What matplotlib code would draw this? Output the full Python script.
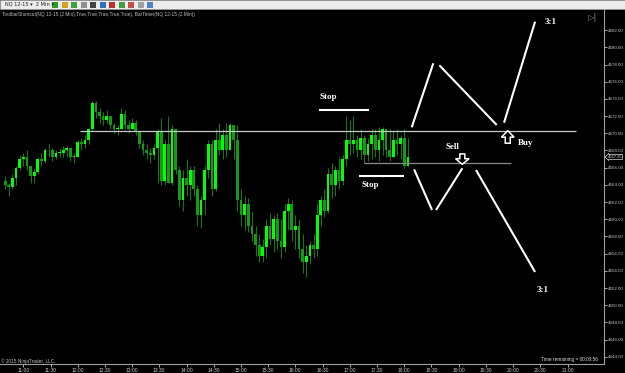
import matplotlib
matplotlib.use("Agg")
import matplotlib.pyplot as plt
import matplotlib.transforms as mtransforms
from matplotlib.patches import FancyArrow, Rectangle
import numpy as np

# 4-minute bars, time in minutes after 11:00
bar_step = 4
first_time = -20
first_open = 4664.50
highs = [4665.0, 4664.25, 4665.25, 4666.25, 4667.5, 4667.75, 4668.0, 4666.25, 4666.0, 4667.25,
         4667.75, 4668.25, 4668.75, 4668.25, 4668.0, 4668.25, 4668.5, 4668.5, 4668.25, 4667.75,
         4669.25, 4669.5, 4669.75, 4670.5, 4673.75, 4673.75, 4673.0, 4672.5, 4672.75, 4672.0,
         4671.25, 4671.0, 4673.0, 4672.75, 4671.5, 4671.75, 4671.5, 4670.25, 4669.25, 4668.75,
         4668.25, 4668.75, 4670.5, 4671.75, 4669.25, 4672.0, 4671.0, 4670.5, 4666.25, 4665.75,
         4667.0, 4666.25, 4666.25, 4664.0, 4662.75, 4666.25, 4669.25, 4669.25, 4670.5, 4671.25,
         4670.5, 4671.25, 4671.25, 4671.0, 4671.0, 4663.5, 4662.75, 4662.5, 4661.0, 4659.25,
         4658.25, 4657.75, 4660.0, 4660.75, 4660.5, 4660.75, 4660.0, 4661.75, 4662.5, 4662.25,
         4660.5, 4660.0, 4658.25, 4657.0, 4657.5, 4658.25, 4661.75, 4662.75, 4663.5, 4666.0,
         4666.5, 4666.25, 4667.25, 4667.5, 4672.0, 4671.5, 4672.0, 4669.75, 4670.5, 4669.75,
         4669.5, 4670.5, 4670.5, 4670.75, 4670.75, 4670.5, 4670.5, 4670.25, 4670.5, 4669.75,
         4670.5, 4669.5]
lows = [4663.5, 4662.75, 4663.5, 4664.0, 4665.75, 4666.25, 4665.75, 4664.25, 4664.25, 4665.25,
        4666.25, 4666.5, 4667.25, 4666.75, 4667.0, 4667.25, 4667.25, 4667.25, 4666.75, 4666.5,
        4667.25, 4668.0, 4668.25, 4668.75, 4670.25, 4671.75, 4671.25, 4671.0, 4671.25, 4670.5,
        4670.0, 4669.75, 4670.5, 4670.5, 4670.0, 4670.5, 4669.75, 4668.25, 4667.5, 4667.0,
        4666.5, 4667.0, 4664.25, 4664.0, 4664.0, 4664.25, 4664.0, 4665.25, 4661.5, 4661.0,
        4662.75, 4662.25, 4662.75, 4659.25, 4659.0, 4660.5, 4664.75, 4662.75, 4663.25, 4667.5,
        4667.0, 4667.25, 4668.0, 4667.0, 4661.0, 4659.25, 4658.75, 4658.5, 4657.5, 4655.75,
        4655.0, 4655.0, 4655.5, 4657.0, 4656.25, 4656.5, 4655.5, 4656.25, 4658.75, 4657.5,
        4656.5, 4655.5, 4653.75, 4653.25, 4654.75, 4655.5, 4655.75, 4659.25, 4660.25, 4660.75,
        4662.5, 4662.75, 4663.5, 4664.0, 4666.25, 4667.5, 4667.75, 4667.25, 4667.0, 4666.5,
        4666.75, 4667.0, 4667.25, 4666.75, 4667.5, 4667.25, 4666.75, 4667.25, 4667.5, 4667.0,
        4666.0, 4666.5]
closes = [4664.0, 4663.75, 4664.75, 4666.0, 4667.0, 4667.25, 4666.25, 4665.0, 4665.5, 4667.0,
          4666.75, 4668.0, 4668.0, 4667.25, 4667.75, 4667.75, 4668.0, 4668.25, 4667.25, 4667.25,
          4669.0, 4668.75, 4669.25, 4670.5, 4673.5, 4672.5, 4672.0, 4671.5, 4672.0, 4671.0,
          4670.5, 4670.5, 4672.25, 4671.0, 4670.5, 4671.25, 4670.25, 4668.75, 4668.0, 4667.75,
          4667.5, 4668.25, 4670.25, 4664.5, 4668.75, 4664.25, 4670.5, 4665.75, 4662.25, 4664.75,
          4664.0, 4665.75, 4663.5, 4660.5, 4662.25, 4665.75, 4668.75, 4663.5, 4669.25, 4668.0,
          4669.75, 4668.0, 4671.0, 4669.25, 4662.25, 4660.5, 4661.75, 4659.25, 4658.25, 4657.0,
          4655.75, 4656.75, 4659.25, 4657.75, 4660.0, 4657.5, 4656.75, 4661.0, 4661.75, 4658.75,
          4659.25, 4656.5, 4655.0, 4655.75, 4657.0, 4656.5, 4660.5, 4662.25, 4661.0, 4665.25,
          4664.0, 4665.75, 4664.5, 4667.0, 4669.25, 4668.75, 4669.25, 4668.0, 4669.5, 4667.5,
          4668.75, 4669.75, 4668.0, 4669.25, 4670.5, 4668.0, 4667.25, 4669.25, 4668.75, 4669.5,
          4666.25, 4667.25]

last_price = 4667.25
time_ticks = ["11:00", "11:30", "12:00", "12:30", "13:00", "13:30", "14:00", "14:30", "15:00",
              "15:30", "16:00", "16:30", "17:00", "17:30", "18:00", "18:30", "19:00", "19:30",
              "20:00", "20:30", "21:00"]
price_ticks = list(range(4644, 4684, 2))

# drawing lines (time min, price)
resist_level = 4670.25
support_level = 4666.5
up_path = [[(428.2, 4670.70), (452.0, 4678.14)],
           [(458.7, 4677.91), (521.9, 4670.97)],
           [(530.0, 4671.23), (564.2, 4682.98)]]
down_path = [[(430.8, 4665.81), (450.6, 4661.08)],
             [(455.0, 4661.08), (484.0, 4665.93)],
             [(499.1, 4665.73), (564.2, 4653.87)]]

closes = np.array(closes)
opens = np.concatenate([[first_open], closes[:-1]])
highs = np.maximum(np.array(highs), np.maximum(opens, closes))
lows = np.minimum(np.array(lows), np.minimum(opens, closes))
times = first_time + bar_step * np.arange(len(closes))

small = "Liberation Sans"

fig = plt.figure(figsize=(6.25, 3.73), dpi=100, facecolor="black")
ax = fig.add_axes([0, 9 / 373, 604 / 625, 354 / 373])
ax.set_facecolor("black")

up = closes >= opens
ax.vlines(times, lows, highs, color="#0f7f0f", lw=0.7, zorder=2)
body_h = np.maximum(np.abs(closes - opens), 0.08)
body_b = np.minimum(opens, closes)
ax.bar(times[up], body_h[up], bottom=body_b[up], width=3.0, color="#00ff00", lw=0, zorder=3)
ax.bar(times[~up], body_h[~up], bottom=body_b[~up], width=3.0, color="#139c13", lw=0, zorder=3)

# horizontal levels
ax.hlines(resist_level, 62.5, 609.4, color="#c8c8c8", lw=0.9, zorder=4)
ax.hlines(support_level, 375.6, 537.4, color="#8a8a8a", lw=0.9, zorder=4)
ax.hlines(4672.75, 326.0, 381.1, color="white", lw=1.5, zorder=5)
ax.hlines(4665.0, 370.1, 419.7, color="white", lw=1.5, zorder=5)

for seg in up_path + down_path:
    (x0, y0), (x1, y1) = seg
    ax.plot([x0, x1], [y0, y1], color="white", lw=1.5, solid_capstyle="butt", zorder=5)

lab = dict(color="white", fontsize=6.5, fontweight="bold", family="Liberation Serif",
           ha="center", va="center", zorder=6)
ax.text(335.9, 4674.2, "Stop", **lab)
ax.text(382.3, 4664.0, "Stop", **lab)
ax.text(472.7, 4668.45, "Sell", **lab)
ax.text(554.2, 4668.85, "Buy", **lab)
ax.text(581.8, 4683.0, "3:1", **lab)
ax.text(572.4, 4651.8, "3:1", **lab)

ax.add_patch(FancyArrow(534.1, 4668.85, 0, 1.45, width=5.5, head_width=14, head_length=0.75,
                        length_includes_head=True, fc="black", ec="white", lw=1.1, zorder=6))
ax.add_patch(FancyArrow(484.0, 4667.6, 0, -1.2, width=5.5, head_width=15, head_length=0.65,
                        length_includes_head=True, fc="black", ec="white", lw=1.1, zorder=6))

ax.set_xlim(-25.7, 640.2)
ax.set_ylim(4643.17, 4684.34)

ax.set_xticks(np.arange(0, 601, 30))
ax.set_xticklabels(time_ticks, family=small)
ax.set_yticks(price_ticks)
ax.set_yticklabels([f"{p:.2f}" for p in price_ticks], family=small)
ax.yaxis.tick_right()
ax.tick_params(axis="x", labelsize=3.6, colors="#c8c8c8", length=2, width=0.6, pad=1)
ax.tick_params(axis="y", labelsize=3.2, colors="#c8c8c8", length=1.8, width=0.6, pad=0.8)
for s in ["top", "left"]:
    ax.spines[s].set_visible(False)
for s in ["bottom", "right"]:
    ax.spines[s].set_color("#a0a0a0")
    ax.spines[s].set_linewidth(0.8)

# current price marker
trans = mtransforms.blended_transform_factory(ax.transAxes, ax.transData)
ax.text(1.006, last_price, f"{last_price:.2f}", transform=trans, fontsize=3.0, family=small,
        color="#dddddd", va="center", ha="left", clip_on=False,
        bbox=dict(boxstyle="larrow,pad=0.1", fc="black", ec="#dddddd", lw=0.5))

# toolbar strip and captions
fig.patches.append(Rectangle((0, 1 - 9 / 373), 1, 9 / 373, transform=fig.transFigure,
                             fc="#ececec", ec="#a0a0a0", lw=0.5))
fig.text(0.008, 1 - 4.5 / 373, "NQ 12-15 \u25be  2 Min \u25be", fontsize=3.6, color="#222222",
         va="center")
for k, c in enumerate(["#2a9a2a", "#d8a020", "#40a040", "#909090", "#444444", "#3070c0",
                       "#c03030", "#40a040", "#c05050", "#a0a0a0", "#5080d0"]):
    fig.patches.append(Rectangle(((52 + k * 9.5) / 625, 1 - 8 / 373), 6 / 625, 6 / 373,
                                 transform=fig.transFigure, fc=c, ec="none"))
fig.text(2 / 625, 1 - 14.5 / 373,
         "ToolbarShortcut(NQ 12-15 (2 Min),True,True,True,True,True), BarTimer(NQ 12-15 (2 Min))",
         fontsize=3.4, family=small, color="#c0c0c0", va="center")
fig.text(588 / 625, 1 - 17 / 373, "\u25b7|", fontsize=6, color="#8a8a8a", va="center")
fig.text(598 / 625, 1 - 360 / 373, "Time remaining = 00:00:56", fontsize=3.4, family=small,
         color="#dddddd", ha="right", va="center")
fig.text(1 / 625, 1 - 361 / 373, "\u00a9 2015 NinjaTrader, LLC.", fontsize=3.4, family=small,
         color="#c0c0c0", va="center")

fig.savefig("out.png", dpi=100, facecolor="black")
